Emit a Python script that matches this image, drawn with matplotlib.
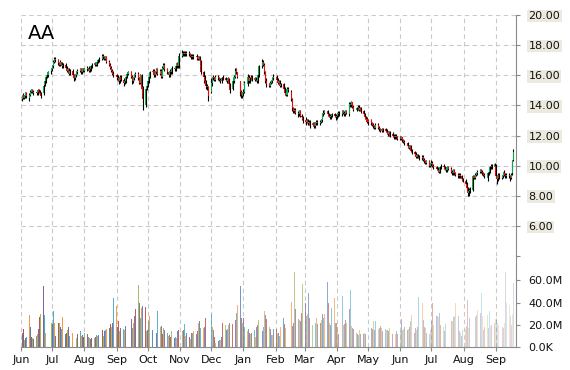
import numpy as np
import pandas as pd
import matplotlib
matplotlib.use("Agg")
import matplotlib.pyplot as plt
import matplotlib.dates as mdates
from matplotlib.colors import to_rgba

ticker = "AA"
start_date = "2014-06-02"

close = [
    # Jun 2014
    14.6,14.5,14.6,14.8,14.6, 14.7,14.9,15.0,14.9,14.9, 14.8,15.0,14.9,14.8,14.6, 15.3,15.6,15.9,16.0,16.2, 16.4,
    # Jul
    16.6,16.9,17.1,17.0, 16.8,16.7,16.9,16.6,16.7, 16.5,16.3,16.4,16.1,16.3, 16.0,15.8,16.0,16.2,16.3, 16.4,16.2,16.4,16.3,
    # Aug
    16.4, 16.5,16.3,16.4,16.6,16.7, 16.8,16.7,16.9,17.0,17.1, 17.3,17.2,17.1,17.2,16.9, 16.7,16.5,16.3,16.1,16.0,
    # Sep
    15.9,15.8,15.6,15.9,15.7, 15.5,15.6,15.9,16.1,16.2, 15.9,15.6,15.8,16.0,16.1, 15.8,15.5,16.0,15.1,14.4, 15.1,15.3,
    # Oct
    15.6,15.9,16.2, 16.3,16.0,16.2,16.4,16.1, 16.3,15.9,16.5,16.7,16.4, 16.2,16.0,16.3,16.2,16.5, 16.4,16.6,16.8,16.6,17.3,
    # Nov
    17.5,17.4,17.5,17.4,17.5, 17.4,17.3,17.2,17.3,17.2, 17.2,17.1,17.2,17.0,16.2, 15.9,15.6,15.3,15.2,14.6,
    # Dec
    15.5,15.8,15.8,15.7,15.9, 15.8,15.7,15.6,15.8,15.8, 15.7,15.6,15.8,15.4,15.0, 15.6,15.9,16.3,16.2,15.9, 14.9,14.7,14.8,
    # Jan 2015
    14.9,15.5, 15.9,15.6,15.8,15.9,15.7, 15.8,15.7,15.6,16.0,16.6, 16.9,16.7,16.2,15.6,15.4, 15.3,15.5,15.6,15.8,15.9,
    # Feb
    15.7,15.5,15.6,15.3,15.4, 15.1,14.8,14.7,15.1,15.0, 14.4,13.8,13.6,13.7,13.5, 13.4,13.6,13.3,13.2,13.0,
    # Mar
    12.9,13.0,12.8,12.9,12.7, 12.8,12.6,12.8,12.9,12.8, 12.9,13.0,13.4,13.5,13.6, 13.4,13.3,13.2,13.3,13.4, 13.3,13.2,
    # Apr
    13.3,13.5,13.4, 13.6,13.5,13.4,13.6,13.5, 14.1,14.0,14.2,13.9,13.7, 13.8,13.9,13.7,13.8,13.6, 13.4,13.2,13.1,12.9,
    # May
    12.9, 12.8,12.7,12.6,12.5,12.7, 12.5,12.4,12.3,12.4,12.3, 12.3,12.2,12.1,12.2,12.0, 12.0,11.9,12.0,11.9,11.8,
    # Jun
    11.8,11.9,11.7,11.6,11.5, 11.3,11.2,11.3,11.0,10.9, 10.8,10.6,10.7,10.6,10.5, 10.6,10.4,10.3,10.2,10.3, 10.0,10.1,
    # Jul
    10.2,10.0,9.9, 9.8,9.7,9.6,9.9,10.0, 9.9,9.8,9.7,9.9,9.8, 9.6,9.5,9.7,9.5,9.4, 9.3,9.4,9.3,9.1,9.0,
    # Aug
    8.8,8.5,8.2,8.3,8.4, 9.3,9.2,9.4,9.5,9.6, 9.7,9.6,9.5,9.4,9.3, 9.5,9.6,9.9,10.0,9.9, 10.1,
    # Sep
    9.3,9.1,9.4,9.2, 9.3,9.5,9.4,9.3,9.4, 9.3,9.2,9.4,10.3,10.9,
]

open_ = [
    14.4,14.7,14.5,14.6,14.8, 14.5,14.7,14.9,15.0,14.8, 14.9,14.8,15.0,14.9,14.8, 14.8,15.4,15.6,15.9,16.0, 16.3,
    16.4,16.6,16.9,17.1, 17.0,16.8,16.7,16.9,16.6, 16.7,16.5,16.3,16.4,16.1, 16.3,16.0,15.8,16.0,16.2, 16.3,16.4,16.2,16.4,
    16.3, 16.4,16.5,16.3,16.4,16.6, 16.7,16.8,16.7,16.9,17.0, 17.1,17.3,17.2,17.1,17.2, 16.9,16.7,16.5,16.3,16.1,
    16.0,15.9,15.8,15.6,15.9, 15.7,15.5,15.6,15.9,16.1, 16.2,15.9,15.6,15.8,16.0, 16.1,15.8,15.5,16.0,15.2, 14.0,15.1,
    15.3,15.6,15.9, 16.2,16.3,16.0,16.2,16.4, 16.1,16.3,15.9,16.5,16.7, 16.4,16.2,16.0,16.3,16.2, 16.5,16.4,16.6,16.8,16.6,
    17.3,17.5,17.4,17.5,17.4, 17.5,17.4,17.3,17.2,17.3, 17.3,17.2,17.1,17.2,17.0, 16.2,15.9,15.6,15.3,15.2,
    14.9,15.5,15.9,15.9,15.7, 15.9,15.8,15.7,15.6,15.9, 15.8,15.7,15.6,15.8,15.4, 15.1,15.6,15.9,16.4,16.2, 15.6,14.9,14.6,
    14.8,14.9, 15.4,15.9,15.6,15.8,15.9, 15.7,15.8,15.7,15.6,16.0, 16.6,16.9,16.7,16.2,15.6, 15.4,15.3,15.5,15.6,15.8,
    15.9,15.7,15.5,15.6,15.3, 15.4,15.1,14.8,14.7,15.1, 14.9,14.4,13.8,13.6,13.7, 13.5,13.4,13.6,13.3,13.2,
    13.0,12.9,13.0,12.8,12.9, 12.7,12.8,12.6,12.8,12.9, 12.8,12.9,13.0,13.4,13.5, 13.6,13.4,13.3,13.2,13.3, 13.4,13.3,
    13.2,13.3,13.5, 13.4,13.6,13.5,13.4,13.6, 13.4,14.1,14.0,14.2,13.9, 13.7,13.8,13.9,13.7,13.8, 13.6,13.4,13.2,13.1,
    13.0, 13.0,12.8,12.7,12.6,12.5, 12.7,12.5,12.4,12.3,12.4, 12.4,12.3,12.2,12.1,12.2, 12.1,12.0,11.9,12.0,11.9,
    11.9,11.8,11.9,11.7,11.6, 11.5,11.3,11.2,11.3,11.0, 10.9,10.8,10.6,10.7,10.6, 10.5,10.6,10.4,10.3,10.2, 10.3,10.0,
    10.1,10.2,10.0, 9.9,9.8,9.7,9.6,9.9, 10.0,9.9,9.8,9.7,9.9, 9.8,9.6,9.5,9.7,9.5, 9.4,9.3,9.4,9.3,9.1,
    9.0,8.8,8.5,8.2,8.3, 8.4,9.3,9.2,9.4,9.5, 9.6,9.7,9.6,9.5,9.4, 9.2,9.5,9.6,9.9,10.0, 9.9,
    10.0,9.3,9.1,9.4, 9.2,9.3,9.5,9.4,9.3, 9.4,9.3,9.2,9.5,10.4,
]

high = [
    14.7,14.8,14.7,14.9,14.9, 14.8,15.0,15.1,15.1,15.0, 15.0,15.1,15.1,15.0,14.9, 15.4,15.7,16.0,16.1,16.3, 16.5,
    16.7,17.0,17.2,17.2, 17.1,16.9,17.0,16.9,16.8, 16.8,16.6,16.5,16.5,16.4, 16.4,16.1,16.1,16.3,16.4, 16.5,16.5,16.5,16.5,
    16.5, 16.6,16.6,16.5,16.7,16.8, 16.9,16.9,17.0,17.1,17.2, 17.4,17.4,17.3,17.3,17.3, 17.0,16.8,16.6,16.4,16.3,
    16.1,16.0,15.9,16.0,16.0, 15.8,15.7,16.0,16.2,16.3, 16.3,16.0,15.9,16.1,16.2, 16.2,15.9,16.1,16.1,15.3, 15.2,15.5,
    15.7,16.0,16.3, 16.4,16.4,16.3,16.5,16.5, 16.4,16.4,16.6,16.8,16.8, 16.5,16.3,16.4,16.4,16.6, 16.6,16.7,16.9,16.9,17.5,
    17.7,17.6,17.6,17.6,17.6, 17.6,17.5,17.4,17.4,17.4, 17.4,17.3,17.3,17.3,17.0, 16.3,16.0,15.7,15.4,15.3,
    15.8,15.9,16.0,15.9,16.0, 16.0,15.9,15.8,15.9,16.0, 15.9,15.8,15.9,15.8,15.5, 15.7,16.0,16.5,16.5,16.2, 15.6,15.0,14.9,
    15.1,15.6, 16.1,16.0,15.9,16.0,16.0, 15.9,15.9,15.8,16.1,16.7, 17.1,17.0,16.8,16.3,15.8, 15.5,15.6,15.7,15.9,16.1,
    16.0,15.8,15.7,15.7,15.5, 15.5,15.2,14.9,15.2,15.2, 15.0,14.5,13.9,13.8,13.8, 13.6,13.7,13.7,13.4,13.3,
    13.2,13.1,13.1,13.0,13.0, 12.9,12.9,12.9,13.0,13.0, 13.0,13.1,13.5,13.7,13.7, 13.7,13.5,13.4,13.4,13.5, 13.5,13.4,
    13.4,13.6,13.6, 13.7,13.7,13.6,13.7,13.7, 14.2,14.2,14.3,14.2,14.0, 13.9,14.0,14.0,13.9,13.9, 13.7,13.5,13.3,13.2,
    13.1, 13.1,12.9,12.8,12.7,12.8, 12.8,12.6,12.5,12.5,12.5, 12.5,12.4,12.3,12.3,12.3, 12.2,12.1,12.1,12.1,12.0,
    12.0,12.0,11.9,11.8,11.7, 11.6,11.4,11.4,11.4,11.1, 11.0,10.9,10.8,10.8,10.7, 10.7,10.7,10.5,10.4,10.4, 10.4,10.2,
    10.4,10.3,10.1, 10.0,9.9,9.8,10.0,10.1, 10.1,10.0,9.9,10.0,10.0, 9.9,9.7,9.8,9.8,9.6, 9.5,9.5,9.5,9.4,9.2,
    9.1,8.9,8.6,8.5,8.6, 9.4,9.4,9.5,9.6,9.7, 9.8,9.8,9.7,9.6,9.5, 9.6,9.8,10.0,10.1,10.1, 10.2,
    10.1,9.4,9.5,9.5, 9.4,9.6,9.7,9.5,9.5, 9.5,9.4,9.5,10.4,11.1,
]

low = [
    14.3,14.4,14.4,14.5,14.5, 14.3,14.6,14.8,14.8,14.7, 14.7,14.7,14.8,14.7,14.5, 14.7,15.3,15.5,15.8,15.9, 16.1,
    16.3,16.5,16.8,16.9, 16.7,16.6,16.6,16.5,16.5, 16.4,16.2,16.2,16.0,16.0, 15.9,15.6,15.7,15.9,16.1, 16.2,16.1,16.1,16.2,
    16.2, 16.3,16.2,16.2,16.3,16.5, 16.6,16.6,16.6,16.8,16.9, 17.0,17.1,17.0,17.0,16.8, 16.6,16.4,16.2,16.0,15.9,
    15.7,15.6,15.4,15.5,15.6, 15.3,15.4,15.5,15.8,16.0, 15.8,15.4,15.5,15.7,15.9, 15.7,15.4,15.4,15.0,13.7, 13.9,15.0,
    15.2,15.5,15.8, 16.1,15.9,15.9,16.1,16.0, 16.0,15.8,15.8,16.4,16.3, 16.1,15.9,15.9,16.1,16.1, 16.3,16.3,16.5,16.5,16.5,
    17.2,17.3,17.3,17.3,17.3, 17.3,17.2,17.1,17.1,17.1, 17.0,17.0,17.0,16.9,16.1, 15.5,15.4,15.1,15.0,14.3,
    14.8,15.3,15.7,15.6,15.6, 15.7,15.6,15.5,15.5,15.7, 15.6,15.5,15.5,15.3,14.8, 15.0,15.5,15.8,16.1,15.8, 14.6,14.5,14.5,
    14.6,14.8, 15.3,15.5,15.5,15.7,15.6, 15.6,15.6,15.5,15.5,15.9, 16.5,16.6,16.1,15.5,15.2, 15.2,15.2,15.4,15.5,15.7,
    15.6,15.4,15.4,15.2,15.2, 15.0,14.7,14.6,14.6,14.9, 14.3,13.6,13.5,13.5,13.4, 13.2,13.3,13.2,13.0,12.8,
    12.7,12.8,12.7,12.7,12.5, 12.6,12.5,12.5,12.7,12.7, 12.7,12.8,12.9,13.3,13.4, 13.3,13.2,13.1,13.1,13.2, 13.2,13.0,
    13.1,13.2,13.3, 13.3,13.4,13.3,13.3,13.4, 13.3,13.9,13.9,13.8,13.6, 13.6,13.7,13.6,13.6,13.5, 13.3,13.1,13.0,12.8,
    12.7, 12.7,12.6,12.5,12.4,12.4, 12.4,12.3,12.2,12.2,12.2, 12.2,12.1,12.0,12.0,11.9, 11.9,11.8,11.8,11.8,11.7,
    11.7,11.7,11.6,11.5,11.4, 11.2,11.1,11.1,10.9,10.8, 10.7,10.5,10.5,10.5,10.4, 10.4,10.3,10.2,10.1,10.1, 9.9,9.9,
    10.0,9.9,9.8, 9.7,9.6,9.5,9.5,9.8, 9.8,9.7,9.6,9.6,9.7, 9.5,9.4,9.4,9.4,9.3, 9.2,9.2,9.2,9.0,8.9,
    8.7,8.4,8.0,8.0,8.2, 8.3,9.1,9.1,9.3,9.4, 9.5,9.5,9.4,9.3,9.2, 9.0,9.4,9.5,9.8,9.8, 9.8,
    9.2,8.8,9.0,9.1, 9.1,9.2,9.3,9.2,9.2, 9.2,9.0,9.1,9.4,10.3,
]

volume_m = [
    13,16,6,8,9, 29,18,9,8,7, 10,12,16,27,30, 55,29,13,24,21, 22,
    21,32,22,10, 22,22,18,16,27, 12,13,15,18,10, 13,9,15,8,12, 14,10,11,9,
    13, 12,9,8,7,8, 8,9,11,10,11, 15,10,14,15,16, 17,21,18,22,44,
    37,18,23,14,17, 16,15,19,21,21, 25,17,22,28,34, 56,40,26,35,37, 36,14,
    15,23,28, 15,12,15,13,32, 18,19,12,17,15, 13,10,11,9,14, 8,9,8,14,15,
    14,15,21,10,13, 9,7,13,13,14, 12,14,22,23,17, 17,18,26,27,30,
    30,18,15,9,4, 5,6,6,9,22, 20,15,16,20,22, 21,22,24,31,38, 55,26,22,
    26,18,14,16,13, 12,13,15,9,18, 20,24,14,18,32, 29,25,18,16,11, 11,16,
    16,13,13,10,18, 26,21,17,19,22, 41,19,22,68,34, 25,24,23,31,57,
    40,28,30,49,26, 20,18,22,26,21, 22,24,30,26,30, 59,40,22,20,35, 44,22,
    22,18,12, 46,20,21,24,22, 34,51,19,17,16, 13,12,11,15,12, 12,13,12,11,
    31, 17,16,23,15,23, 16,17,19,17,14, 16,15,15,14,17, 12,11,12,14,12,
    14,25,15,16,18, 15,16,18,23,29, 13,17,15,18,45, 40,24,18,17,13, 12,15,
    23,40,20, 28,28,27,31,20, 18,14,21,22,20, 23,23,27,28,40, 28,14,13,10,15,
    16,19,42,17,26, 29,42,27,29,33, 31,49,28,15,18, 29,17,32,19,20, 22,
    25,26,22,20, 18,17,22,68,40, 38,28,20,30,58,
]

price_ticks = [4, 6, 8, 10, 12, 14, 16, 18, 20]
volume_ticks = [0, 20, 40, 60]
volume_labels = ["0.0K", "20.0M", "40.0M", "60.0M"]

# ---------------------------------------------------------------
o = np.array(open_); h = np.array(high); l = np.array(low); c = np.array(close)
v = np.array(volume_m, dtype=float)
n = len(c)
dates = pd.bdate_range(start_date, periods=n)
x = mdates.date2num(dates)

W, H = 570, 370
fig = plt.figure(figsize=(W / 100, H / 100), dpi=100)
ax = fig.add_axes([21 / W, 1 - 256 / H, 495 / W, 241 / H])
axv = fig.add_axes([21 / W, 1 - 347 / H, 495 / W, 91 / H], sharex=ax)

grid_kw = dict(color="#cacaca", linestyle=(0, (4, 3)), linewidth=0.8)
text_color = "#111111"
spine_color = "#8a8a8a"

# candles
up = c >= o
ax.vlines(x, l, h, color="black", linewidth=0.8, zorder=3)
body = np.where(np.abs(c - o) < 0.05, 0.06, c - o)
ax.bar(x, body, bottom=o, width=1.0, color=np.where(up, "#00b050", "#ff0000"),
       linewidth=0, zorder=4)

# volume bars (colour cycles, fading over time)
palette = ["#4f81bd", "#c0504d", "#9bbb59", "#8064a2", "#4bacc6", "#f79646"]
frac = np.arange(n) / (n - 1)
alphas = 1.0 - 0.75 * frac ** 1.6
vcols = [to_rgba(palette[i % len(palette)], alphas[i]) for i in range(n)]
axv.bar(x, v, width=0.9, color=vcols, linewidth=0, zorder=3)

# axes limits
ax.set_xlim(mdates.date2num(pd.Timestamp("2014-06-01")),
            mdates.date2num(pd.Timestamp("2015-09-20 10:00")))
ax.set_ylim(4, 20)
axv.set_ylim(0, 82)

# x axis
axv.xaxis.set_major_locator(mdates.MonthLocator())
axv.xaxis.set_major_formatter(mdates.DateFormatter("%b"))
ax.tick_params(axis="x", length=0, labelbottom=False)
axv.tick_params(axis="x", length=3, color=spine_color, pad=3, labelsize=8,
                labelcolor=text_color)

# price y axis
ax.yaxis.tick_right()
ax.set_yticks(price_ticks)
ax.set_yticklabels(["" if t == 4 else f"{t:.2f}" for t in price_ticks])
ax.tick_params(axis="y", length=3, color=spine_color, pad=6, labelsize=8,
               labelcolor=text_color)
for lbl in ax.get_yticklabels():
    lbl.set_bbox(dict(boxstyle="square,pad=0.12", fc="#eceadf", ec="none"))

# volume y axis
axv.yaxis.tick_right()
axv.set_yticks(volume_ticks)
axv.set_yticklabels(volume_labels)
axv.tick_params(axis="y", length=3, color=spine_color, pad=6, labelsize=8,
                labelcolor=text_color)

# grids
ax.grid(True, axis="both", **grid_kw)
axv.grid(True, axis="x", **grid_kw)
axv.grid(False, axis="y")
ax.set_axisbelow(True)
axv.set_axisbelow(True)

for s in ["top", "left", "bottom"]:
    ax.spines[s].set_visible(False)
for s in ["top", "left"]:
    axv.spines[s].set_visible(False)
ax.spines["right"].set_color(spine_color)
axv.spines["right"].set_color(spine_color)
axv.spines["bottom"].set_color(spine_color)
ax.patch.set_alpha(0)
axv.patch.set_alpha(0)

ax.text(0.014, 0.90, ticker, transform=ax.transAxes, fontsize=14,
        va="baseline", ha="left", color="black")

fig.savefig("out.png", dpi=100)
